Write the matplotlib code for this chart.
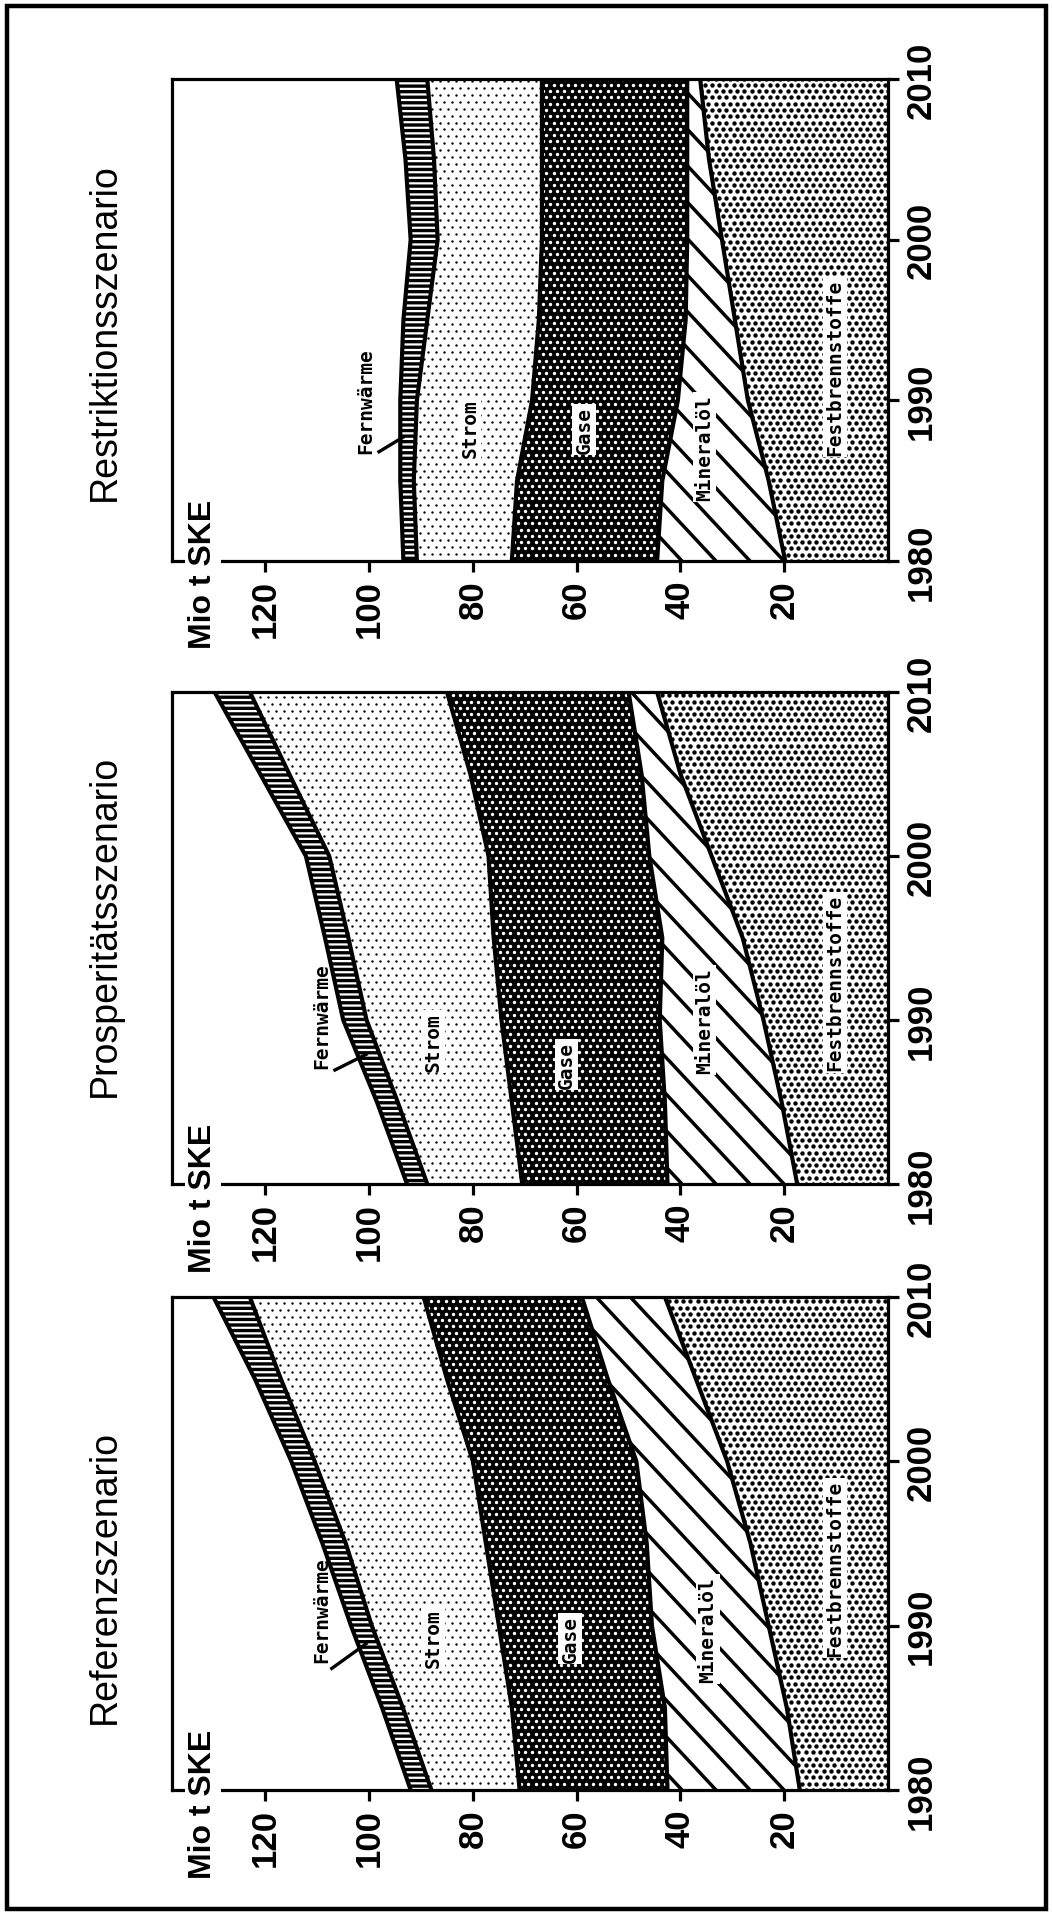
import numpy as np
import matplotlib
matplotlib.use('Agg')
import matplotlib.pyplot as plt
from matplotlib.patches import Rectangle
from matplotlib.collections import LineCollection

W, H, DPI = 1052, 1915, 100

years = [1980, 1985, 1990, 1995, 2000, 2005, 2010]
categories = ['Festbrennstoffe', 'Mineralöl', 'Gase', 'Strom', 'Fernwärme']
titles = ['Referenzszenario', 'Prosperitätsszenario', 'Restriktionsszenario']
value_ticks = [20, 40, 60, 80, 100, 120]
year_ticks = [1980, 1990, 2000, 2010]

## Mio t SKE, per category (not stacked)
ref_fest = [17, 19.5, 23, 26.5, 31, 37, 43]
ref_oel = [25.5, 23.5, 22.5, 20, 17.5, 17, 16]
ref_gase = [28.5, 29.5, 29.5, 31, 31.5, 31, 30.5]
ref_strom = [17, 21, 24.5, 27, 30.5, 32, 33.5]
ref_fernw = [4, 4, 4, 4.5, 4.5, 5, 7]

pro_fest = [17.5, 20.5, 24, 28, 34, 40, 44.5]
pro_oel = [25, 22.5, 20, 15.5, 12, 7.5, 5.5]
pro_gase = [28, 29.5, 30.5, 32.5, 31, 33, 35]
pro_strom = [18.3, 22, 26, 28, 30.7, 34.9, 38]
pro_fernw = [3.9, 4, 4.5, 4.5, 4.5, 5.6, 6.8]

res_fest = [19.8, 23, 27, 29.5, 32, 34.5, 36.2]
res_oel = [24.7, 20.5, 13.5, 9.5, 6.7, 4.2, 2.5]
res_gase = [28, 28, 28.1, 28.3, 28, 28, 28]
res_strom = [18.3, 19.9, 22.2, 21.5, 20.1, 20.8, 22.1]
res_fernw = [2.6, 2.6, 3.2, 4.6, 5.2, 5.5, 5.9]

scenarios = [
    [ref_fest, ref_oel, ref_gase, ref_strom, ref_fernw],
    [pro_fest, pro_oel, pro_gase, pro_strom, pro_fernw],
    [res_fest, res_oel, res_gase, res_strom, res_fernw],
]

## layout (figure pixels from top)
panel_top = [1298, 693, 80]
panel_bot = [1791, 1185, 562]
title_y = [1577, 926, 332]
AX_L, AX_R = 172, 888

## label positions (value, year) for each panel
label_pos = [
    {'Fernwärme': (109.1, 1991.0), 'Strom': (87.7, 1989.3), 'Gase': (61.3, 1989.2),
     'Mineralöl': (34.7, 1989.8), 'Festbrennstoffe': (10.2, 1993.5),
     'leader': ((107.2, 1987.4), (100.6, 1988.9))},
    {'Fernwärme': (109.1, 1990.3), 'Strom': (87.7, 1988.7), 'Gase': (61.9, 1987.3),
     'Mineralöl': (35.3, 1990.0), 'Festbrennstoffe': (10.2, 1992.3),
     'leader': ((106.6, 1986.95), (100.6, 1987.9))},
    {'Fernwärme': (100.6, 1990.0), 'Strom': (80.6, 1988.3), 'Gase': (58.6, 1988.2),
     'Mineralöl': (35.3, 1987.1), 'Festbrennstoffe': (10.2, 1992.1),
     'leader': ((98.1, 1986.8), (93.5, 1987.7))},
]

tick_font = ['Liberation Sans Narrow', 'Liberation Sans', 'DejaVu Sans']
lab_font = ['DejaVu Sans Mono']


def ax_px(ax):
    bb = ax.get_position()
    return bb.width * W, bb.height * H


def clip_to(artist, coll):
    artist.set_clip_path(coll.get_paths()[0], coll.get_transform())


def dots(ax, coll, spacing, diam, color):
    w, h = ax_px(ax)
    rows = []
    for j, y in enumerate(np.arange(0, h + spacing, spacing * 0.87)):
        x = np.arange(0, w + spacing, spacing) + (spacing / 2 if j % 2 else 0)
        rows.append(np.column_stack([x / w, np.full(len(x), y / h)]))
    p = np.vstack(rows)
    sc = ax.scatter(p[:, 0], p[:, 1], s=(diam * 72 / DPI) ** 2, c=color,
                    linewidths=0, transform=ax.transAxes, zorder=1.5)
    clip_to(sc, coll)


def slashes(ax, coll, spacing=34, angle=47):
    w, h = ax_px(ax)
    run = h / np.tan(np.radians(angle))
    segs = []
    for c in np.arange(-run, w + spacing, spacing):
        segs.append([(c / w, 1), ((c + run) / w, 0)])
    lc = LineCollection(segs, colors='black', linewidths=2.5, transform=ax.transAxes, zorder=1.5)
    ax.add_collection(lc, autolim=False)
    clip_to(lc, coll)


plt.rcParams['hatch.linewidth'] = 2.4
fig = plt.figure(figsize=(W / DPI, H / DPI), dpi=DPI)

for k in range(3):
    ax = fig.add_axes([AX_L / W, (H - panel_bot[k]) / H, (AX_R - AX_L) / W,
                       (panel_bot[k] - panel_top[k]) / H])
    ax.set_xlim(138, 0)
    ax.set_ylim(1980, 2010)

    base = np.zeros(len(years))
    tops = []
    for name, vals in zip(categories, scenarios[k]):
        top = base + np.array(vals)
        if name == 'Gase':
            coll = ax.fill_betweenx(years, base, top, facecolor='black', linewidth=0, zorder=1)
            dots(ax, coll, 7.2, 3.4, 'white')
        elif name == 'Fernwärme':
            coll = ax.fill_betweenx(years, base, top, facecolor='white', edgecolor='black',
                                    hatch='---', linewidth=0, zorder=1)
        else:
            coll = ax.fill_betweenx(years, base, top, facecolor='white', linewidth=0, zorder=1)
            if name == 'Festbrennstoffe':
                dots(ax, coll, 7.2, 4.4, 'black')
            elif name == 'Strom':
                dots(ax, coll, 8.0, 2.4, 'black')
            else:
                slashes(ax, coll)
        tops.append(top)
        base = top

    for top in tops:
        ax.plot(top, years, color='black', lw=3.0, zorder=3, solid_joinstyle='round')

    ## labels
    lp = label_pos[k]
    for name in categories:
        v, y = lp[name]
        box = None if name == 'Fernwärme' else dict(facecolor='white', edgecolor='none', pad=1.5)
        ax.text(v, y, name, rotation=90, ha='center', va='center', fontsize=14,
                family=lab_font, weight='bold', bbox=box, zorder=4)
    (x0, y0), (x1, y1) = lp['leader']
    ax.plot([x0, x1], [y0, y1], color='black', lw=2.4, zorder=4)

    ## axes
    for s in ax.spines.values():
        s.set_linewidth(2.3)
        s.set_zorder(5)
    ax.yaxis.tick_right()
    ax.set_yticks(year_ticks)
    ax.set_yticklabels([str(t) for t in year_ticks])
    ax.set_xticks(value_ticks)
    ax.set_xticklabels([str(t) for t in value_ticks])
    ax.tick_params(axis='y', direction='out', length=8, width=2.3, labelrotation=90, pad=4)
    ax.tick_params(axis='x', direction='out', length=8, width=2.3, labelrotation=90, pad=5)
    for t in ax.get_xticklabels() + ax.get_yticklabels():
        t.set_fontfamily(tick_font)
        t.set_fontweight('bold')
        t.set_fontsize(25)
    for t in ax.get_yticklabels():
        t.set_va('center')

    ax.text(132, 1979.2, 'Mio t SKE', rotation=90, ha='center', va='center', fontsize=23,
            family=tick_font, weight='bold', zorder=6,
            bbox=dict(facecolor='white', edgecolor='none', pad=2))

    fig.text(105 / W, (H - title_y[k]) / H, titles[k], rotation=90, ha='center', va='center',
             fontsize=27, family=['Liberation Sans', 'DejaVu Sans'])

fig.add_artist(Rectangle((7 / W, 5 / H), 1039 / W, 1903 / H, transform=fig.transFigure,
                         fill=False, lw=3.2, edgecolor='black'))

fig.savefig('out.png', dpi=DPI)
